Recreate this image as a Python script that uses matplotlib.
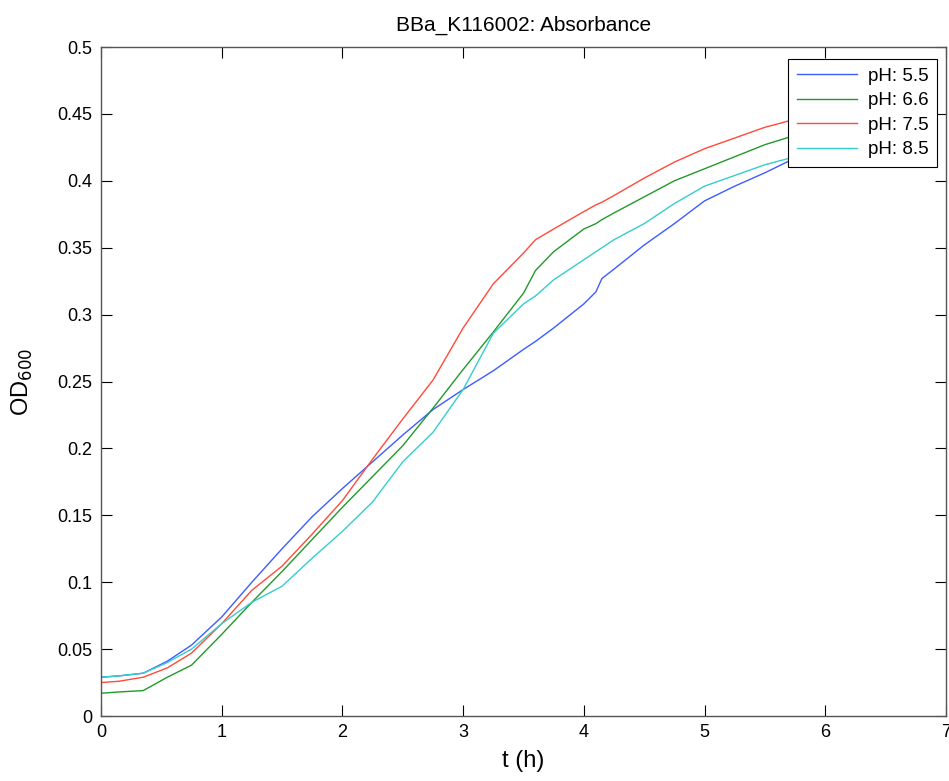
import matplotlib
matplotlib.use('Agg')
from matplotlib import pyplot as plt

# time axis (h)
t = [0, 0.15, 0.35, 0.55, 0.75, 1.0, 1.25, 1.5, 1.75, 2.0, 2.25, 2.5, 2.75,
     3.0, 3.25, 3.5, 3.6, 3.75, 4.0, 4.1, 4.15, 4.25, 4.5, 4.75, 5.0, 5.25,
     5.5, 5.75, 6.0]

od_ph55 = [0.029, 0.030, 0.032, 0.041, 0.053, 0.074, 0.100, 0.125, 0.149,
           0.170, 0.190, 0.210, 0.229, 0.244, 0.258, 0.274, 0.280, 0.290,
           0.308, 0.317, 0.327, 0.334, 0.352, 0.368, 0.385, 0.396, 0.406,
           0.417, 0.425]
od_ph66 = [0.017, 0.018, 0.019, 0.029, 0.038, 0.061, 0.085, 0.108, 0.132,
           0.156, 0.179, 0.202, 0.230, 0.259, 0.287, 0.316, 0.333, 0.347,
           0.364, 0.368, 0.371, 0.376, 0.388, 0.400, 0.409, 0.418, 0.427,
           0.434, 0.440]
od_ph75 = [0.025, 0.026, 0.029, 0.036, 0.047, 0.069, 0.094, 0.112, 0.136,
           0.161, 0.192, 0.222, 0.251, 0.290, 0.323, 0.346, 0.356, 0.364,
           0.377, 0.382, 0.384, 0.389, 0.402, 0.414, 0.424, 0.432, 0.440,
           0.446, 0.452]
od_ph85 = [0.029, 0.030, 0.032, 0.040, 0.050, 0.069, 0.085, 0.097, 0.118,
           0.138, 0.160, 0.190, 0.212, 0.244, 0.286, 0.308, 0.314, 0.326,
           0.341, 0.347, 0.350, 0.356, 0.368, 0.383, 0.396, 0.404, 0.412,
           0.418, 0.424]

labels = ['pH: 5.5', 'pH: 6.6', 'pH: 7.5', 'pH: 8.5']
series = [od_ph55, od_ph66, od_ph75, od_ph85]
colors = ['#3d5cff', '#22992a', '#ff4a3a', '#35cdcd']

plt.rcParams['font.family'] = ['Liberation Sans', 'DejaVu Sans']

fig = plt.figure(figsize=(9.49, 7.81), dpi=100)
ax = fig.add_axes([0.1064, 0.0832, 0.8904, 0.8566])

for y, c, lab in zip(series, colors, labels):
    ax.plot(t, y, color=c, linewidth=1.0, label=lab)

ax.set_xlim(0, 7)
ax.set_ylim(0, 0.5)
ax.set_xticks(range(0, 8))
ax.set_yticks([i * 0.05 for i in range(11)])
ax.set_yticklabels(['0', '0.05', '0.1', '0.15', '0.2', '0.25', '0.3',
                    '0.35', '0.4', '0.45', '0.5'])

# matlab-ish box with inward ticks on all sides
ax.tick_params(direction='in', length=8, width=0.8, top=True, right=True,
               labelsize=13, pad=6, colors='black')
for sp in ax.spines.values():
    sp.set_color('#555555')
    sp.set_linewidth(1.0)

ax.set_title('BBa_K116002: Absorbance', fontsize=15, pad=12)
ax.set_xlabel('t (h)', fontsize=17, labelpad=6)
ax.set_ylabel('OD$_{600}$', fontsize=17, labelpad=16)

leg = ax.legend(loc='upper right', bbox_to_anchor=(0.9893, 0.982),
                fontsize=13.5, handlelength=3.2, framealpha=1, fancybox=False,
                edgecolor='black', borderpad=0.45, labelspacing=0.4,
                handletextpad=0.6, borderaxespad=0)
leg.get_frame().set_linewidth(0.8)

fig.savefig('out.png', dpi=100)
